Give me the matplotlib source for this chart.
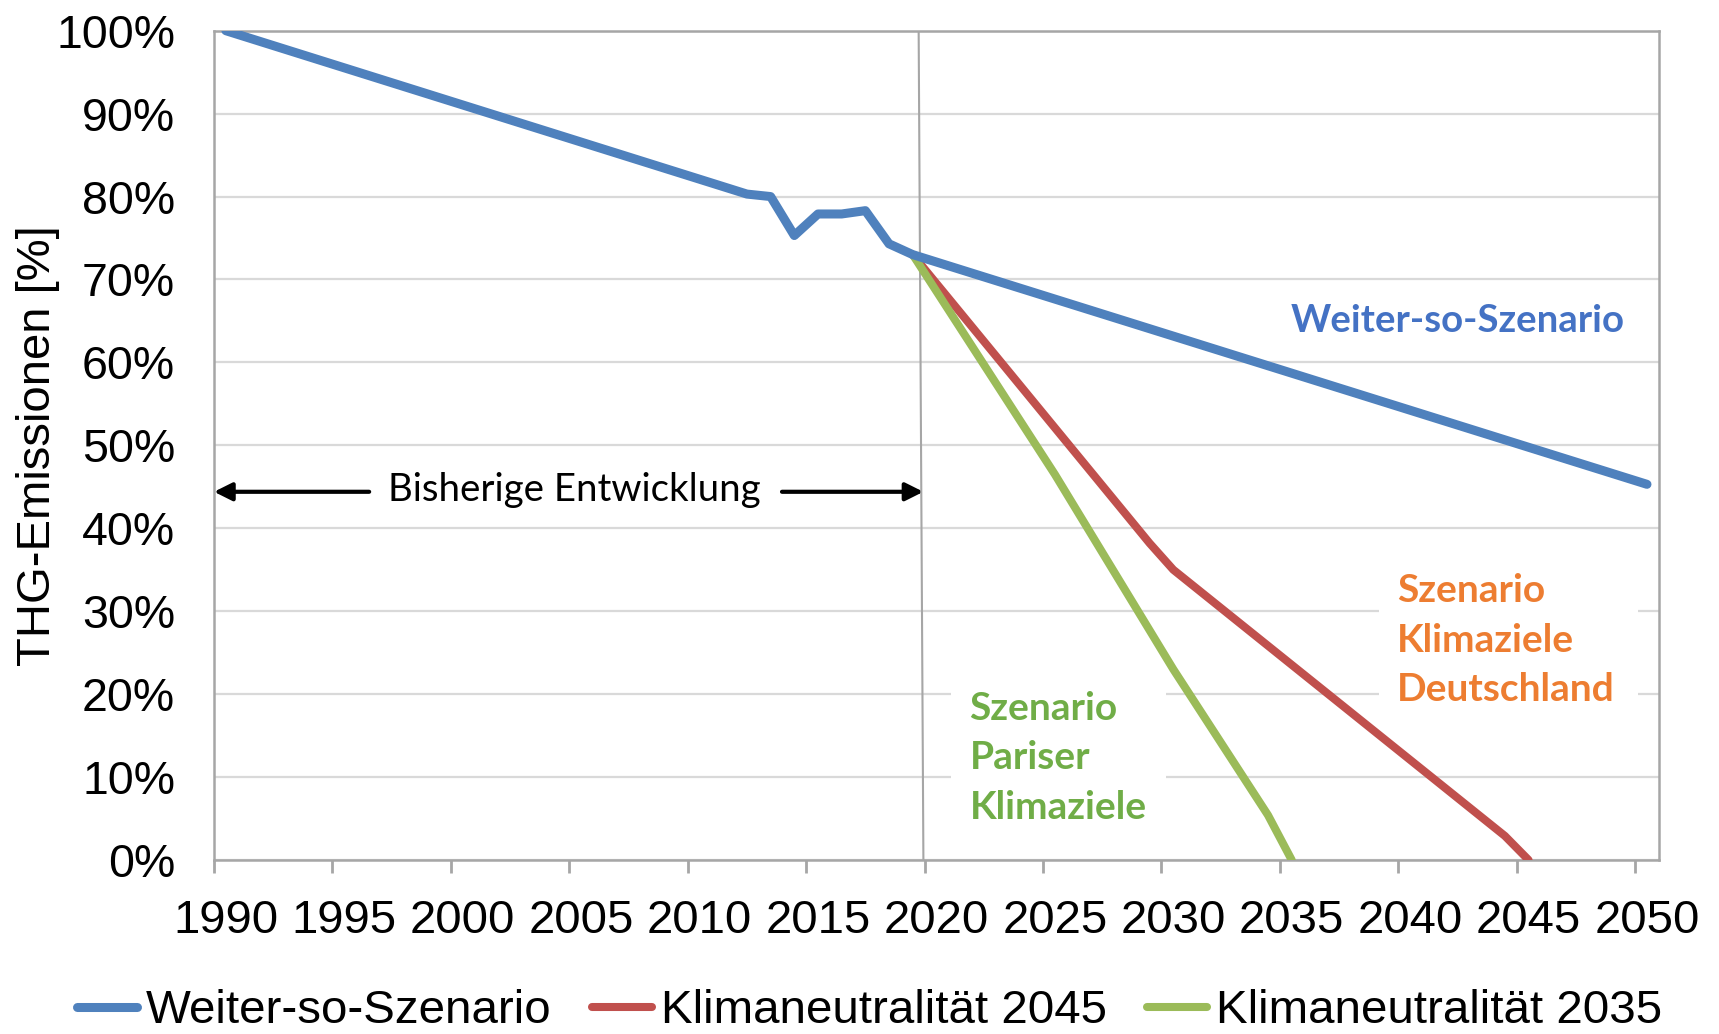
import matplotlib.pyplot as plt
from matplotlib.patches import FancyArrowPatch, Rectangle

# --- data ---
weiter_years = [1990, 2012, 2013, 2014, 2015, 2016, 2017, 2018, 2019, 2050]
weiter_vals = [100.0, 80.3, 80.0, 75.3, 77.9, 77.9, 78.3, 74.3, 73.0, 45.3]

k2045_years = [2019, 2029, 2030, 2044, 2045]
k2045_vals = [73.0, 38.2, 35.0, 2.9, 0.0]

k2035_years = [2019, 2025, 2030, 2034, 2035]
k2035_vals = [73.0, 46.5, 23.0, 5.4, 0.0]

tick_years = list(range(1990, 2051, 5))
y_ticks = list(range(0, 101, 10))

first_year = 1990
n_cat = 61  # category axis 1990..2050

blue = '#4F81BD'
red = '#C0504D'
green = '#9BBB59'
grid_col = '#D9D9D9'
axis_col = '#A6A6A6'

arial = ['Liberation Sans', 'DejaVu Sans']
calibri = ['Lato', 'DejaVu Sans']


def pos(years):
    # Excel category axis: points sit in the middle of each category
    return [y - first_year + 0.5 for y in years]


fig = plt.figure(figsize=(17.19, 10.34), dpi=100)
ax = fig.add_axes([0.1245, 0.1683, 0.8405, 0.802])

ax.plot(pos(weiter_years), weiter_vals, color=blue, lw=6.5, solid_capstyle='round',
        solid_joinstyle='round', label='Weiter-so-Szenario', zorder=4)
ax.plot(pos(k2045_years), k2045_vals, color=red, lw=5.8, solid_capstyle='round',
        solid_joinstyle='round', label='Klimaneutralität 2045', zorder=3)
ax.plot(pos(k2035_years), k2035_vals, color=green, lw=5.8, solid_capstyle='round',
        solid_joinstyle='round', label='Klimaneutralität 2035', zorder=3)

ax.set_xlim(0, n_cat)
ax.set_ylim(0, 100)
# tick marks sit on category borders, labels in the middle of the category
ax.set_xticks([y - first_year for y in tick_years])
ax.set_xticklabels([])
ax.set_xticks(pos(tick_years), minor=True)
ax.set_xticklabels([str(y) for y in tick_years], minor=True, fontsize=34, family=arial)
ax.tick_params(axis='x', which='major', length=9.5, width=2, color=axis_col)
ax.tick_params(axis='x', which='minor', length=0, pad=28)
ax.set_yticks(y_ticks)
ax.set_yticklabels([f'{v}%' for v in y_ticks], fontsize=33.5, family=arial)
ax.tick_params(axis='y', length=0, pad=28)

ax.grid(axis='y', color=grid_col, lw=1.6, zorder=0)
ax.set_axisbelow(True)
for s in ax.spines.values():
    s.set_color(axis_col)
    s.set_linewidth(1.8)

fig.text(38 / 1719, 0.5693, 'THG-Emissionen [%]', fontsize=34, family=arial,
         rotation=90, ha='center', va='center')

# slightly slanted divider at 2020
ax.plot([29.75, 29.95], [100, 0], color=axis_col, lw=1.5, zorder=2)

# "Bisherige Entwicklung" arrows
arrow_kw = dict(arrowstyle='-|>,head_length=0.9,head_width=0.45', color='black', lw=3,
                mutation_scale=12, shrinkA=0, shrinkB=0)
ax.add_patch(FancyArrowPatch((6.55, 44.4), (0.0, 44.4), **arrow_kw))
ax.add_patch(FancyArrowPatch((23.98, 44.4), (29.95, 44.4), **arrow_kw))
ax.text(15.2, 44.6, 'Bisherige Entwicklung', fontsize=27.6, family=calibri,
        ha='center', va='center', color='black')

# white boxes behind the scenario labels (they hide the gridlines)
ax.add_patch(Rectangle((49.2, 18.3), 10.9, 17.5, facecolor='white', edgecolor='none', zorder=1))
ax.add_patch(Rectangle((31.1, 4.0), 9.1, 19.5, facecolor='white', edgecolor='none', zorder=1))

# scenario labels
ax.text(45.45, 65.0, 'Weiter-so-Szenario', fontsize=27.6, family=calibri, fontweight='bold',
        color='#4472C4', ha='left', va='center', zorder=5)
ax.text(49.95, 34.6, 'Szenario\nKlimaziele\nDeutschland', fontsize=28, family=calibri,
        fontweight='bold', color='#ED7D31', ha='left', va='top', linespacing=1.5, zorder=5)
ax.text(31.9, 20.4, 'Szenario\nPariser\nKlimaziele', fontsize=28, family=calibri,
        fontweight='bold', color='#70AD47', ha='left', va='top', linespacing=1.5, zorder=5)

leg = fig.legend(loc='center', bbox_to_anchor=(0.506, 0.022), ncol=3, frameon=False,
                 prop={'family': arial, 'size': 34.2}, handlelength=1.25, handletextpad=0.2,
                 columnspacing=0.85)

fig.savefig('out.png', dpi=100)
